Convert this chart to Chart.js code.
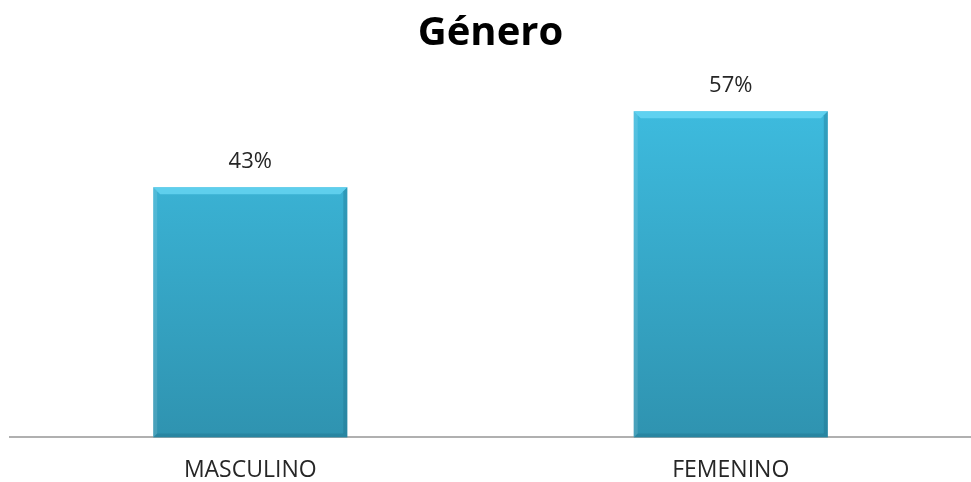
<!DOCTYPE html>
<html><head><meta charset="utf-8">
<script src="https://cdn.jsdelivr.net/npm/chart.js@4/dist/chart.umd.min.js"></script>
<style>html,body{margin:0;padding:0;background:#fff}#wrap{width:971px;height:482px}</style>
</head><body><div id="wrap"><canvas id="c"></canvas></div>
<script>
const categories = ["MASCULINO", "FEMENINO"];
const values = [43.4, 56.6];
const valueLabels = ["43%", "57%"];
const chartTitle = "Género";

const valueLabelPlugin = {
  id: 'valueLabels',
  afterDatasetsDraw(chart) {
    const ctx = chart.ctx;
    const meta = chart.getDatasetMeta(0);
    ctx.save();
    ctx.font = '22px "Open Sans", sans-serif';
    ctx.fillStyle = '#262626';
    ctx.textAlign = 'center';
    ctx.textBaseline = 'alphabetic';
    meta.data.forEach((bar, i) => {
      ctx.fillText(valueLabels[i], bar.x, bar.y - 19);
    });
    ctx.restore();
  }
};
const bevelPlugin = {
  id: 'bevel',
  afterDatasetsDraw(chart) {
    const ctx = chart.ctx;
    const meta = chart.getDatasetMeta(0);
    ctx.save();
    meta.data.forEach((bar) => {
      const l = bar.x - bar.width / 2, r = bar.x + bar.width / 2, t = bar.y, b = bar.base;
      const d = 7;
      ctx.fillStyle = 'rgba(110,220,248,0.7)';
      ctx.beginPath();
      ctx.moveTo(l, t); ctx.lineTo(r, t); ctx.lineTo(r - d, t + d); ctx.lineTo(l + d, t + d); ctx.closePath(); ctx.fill();
      ctx.fillStyle = 'rgba(30,110,135,0.35)';
      ctx.beginPath();
      ctx.moveTo(r, t); ctx.lineTo(r, b); ctx.lineTo(r - 4, b - 4); ctx.lineTo(r - 4, t + 4); ctx.closePath(); ctx.fill();
      ctx.beginPath();
      ctx.moveTo(l, b); ctx.lineTo(r, b); ctx.lineTo(r - 4, b - 4); ctx.lineTo(l + 4, b - 4); ctx.closePath(); ctx.fill();
      ctx.fillStyle = 'rgba(255,255,255,0.12)';
      ctx.beginPath();
      ctx.moveTo(l, t); ctx.lineTo(l + 4, t + 4); ctx.lineTo(l + 4, b - 4); ctx.lineTo(l, b); ctx.closePath(); ctx.fill();
    });
    ctx.restore();
  }
};

new Chart(document.getElementById('c'), {
  type: 'bar',
  data: {
    labels: categories,
    datasets: [{
      data: values,
      backgroundColor: (c) => {
        const area = c.chart.chartArea;
        if (!area) return '#38b0d4';
        const g = c.chart.ctx.createLinearGradient(0, area.top, 0, area.bottom);
        g.addColorStop(0, '#3fc0e4');
        g.addColorStop(1, '#2f93b0');
        return g;
      },
      borderWidth: 0,
      barPercentage: 0.404,
      categoryPercentage: 1.0
    }]
  },
  options: {
    responsive: true,
    maintainAspectRatio: false,
    animation: false,
    layout: { padding: { left: 10, right: 0, top: 0, bottom: -13 } },
    plugins: {
      legend: { display: false },
      tooltip: { enabled: false },
      title: {
        display: true,
        text: chartTitle,
        color: '#000',
        font: { family: '"Open Sans", sans-serif', size: 40, weight: 'bold' },
        padding: { top: 10, bottom: 10 }
      }
    },
    scales: {
      x: {
        grid: { display: false },
        border: { display: true, color: '#b0b0b0', width: 2 },
        ticks: { color: '#262626', font: { family: '"Open Sans", sans-serif', size: 23 }, padding: 11 }
      },
      y: { display: false, min: 0, max: 64.1 }
    }
  },
  plugins: [valueLabelPlugin, bevelPlugin]
});
</script></body></html>
